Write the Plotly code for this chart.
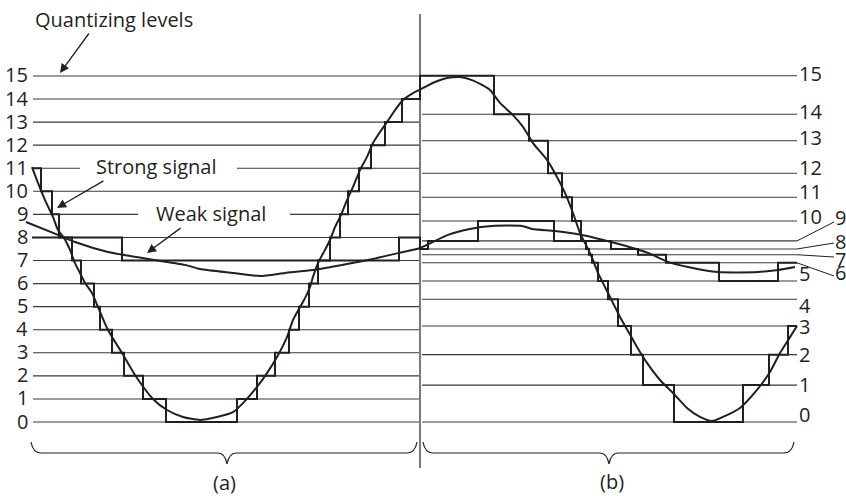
import plotly.graph_objects as go

# ---------------- data ----------------
LEVEL_CODES = list(range(16))
# (a) uniform quantizer: level amplitudes
LEFT_LEVELS = [0, 1, 2, 3, 4, 5, 6, 7, 8, 9, 10, 11, 12, 13, 14, 15]
# (b) companded quantizer: level amplitudes (same amplitude scale)
RIGHT_LEVELS = [0.00, 1.60, 2.92, 4.16, 5.32, 6.11, 6.90, 7.25, 7.50, 7.85,
                8.71, 9.74, 10.78, 12.19, 13.34, 15.01]

# strong (large) analog signal
strong_time = [32, 38, 45, 53, 58, 64, 70, 75, 80, 85, 92, 98, 108, 122, 135, 153, 167, 183, 200, 217,
               233, 243, 257, 267, 277, 287, 293, 300, 305, 310, 313, 318, 325, 330, 335, 341, 347, 353, 360, 367,
               373, 380, 387, 395, 403, 413, 423, 435, 447, 460, 472, 482, 490, 500, 513, 523, 533, 547, 557, 565,
               573, 580, 587, 593, 598, 605, 613, 620, 632, 637, 647, 660, 673, 687, 700, 712, 723, 740, 757, 770,
               780, 790, 797]
strong_value = [11.05, 10.36, 9.62, 8.89, 8.32, 7.98, 7.46, 6.89, 6.46, 6.03, 5.59, 4.98, 3.99, 2.99, 2.04, 1.00, 0.52, 0.22, 0.09, 0.22,
                0.43, 0.82, 1.52, 2.12, 2.82, 3.68, 4.42, 4.98, 5.37, 5.85, 6.29, 6.89, 7.46, 7.89, 8.45, 8.97, 9.62, 10.19, 10.92, 11.49,
                12.09, 12.57, 13.00, 13.52, 13.96, 14.26, 14.48, 14.74, 14.91, 14.95, 14.82, 14.61, 14.39, 13.83, 13.30, 12.79, 12.09, 11.36, 10.62, 9.93,
                9.06, 8.19, 7.59, 7.02, 6.46, 5.85, 5.16, 4.55, 3.64, 3.25, 2.56, 1.82, 1.26, 0.61, 0.22, 0.04, 0.22, 0.61, 1.39, 2.17,
                2.99, 3.68, 4.16]

# weak (small) analog signal
weak_time = [26, 58, 75, 108, 142, 185, 200, 233, 260, 285, 313, 347, 373, 399, 420, 448, 470, 492, 522, 532,
             555, 582, 615, 648, 668, 688, 718, 758, 778, 795]
weak_value = [8.67, 8.11, 7.80, 7.37, 7.11, 6.81, 6.63, 6.46, 6.33, 6.46, 6.59, 6.85, 7.07, 7.33, 7.54, 8.11, 8.37, 8.50, 8.50, 8.37,
              8.28, 8.11, 7.76, 7.33, 6.94, 6.72, 6.50, 6.50, 6.59, 6.72]

# quantized (held) codes: start time of each hold and the code held
strong_left_time = [32, 41, 52, 59, 72, 81, 94, 100, 112, 124, 143, 166, 237, 257, 275, 289, 299, 309, 318, 330,
                    340, 348, 359, 371, 385, 402]
strong_left_code = [11, 10, 9, 8, 7, 6, 5, 4, 3, 2, 1, 0, 1, 2, 3, 4, 5, 6, 7, 8, 9, 10, 11, 12, 13, 14]
strong_right_time = [420, 494, 529, 548, 562, 572, 581, 586, 589, 592, 598, 608, 618, 631, 643, 674, 743, 769, 788]
strong_right_code = [15, 14, 13, 12, 11, 10, 9, 8, 7, 6, 5, 4, 3, 2, 1, 0, 1, 2, 3]

weak_left_time = [32, 122, 399]
weak_left_code = [8, 7, 8]
weak_right_time = [420, 428, 478, 554, 611, 638, 666, 719, 778]
weak_right_code = [8, 9, 10, 9, 8, 7, 6, 5, 6]
END_TIME = 797

# ---------------- layout geometry / style ----------------
W, H = 846, 496
PX_PER_LEVEL = 23.07
BASE_PX = 422


def Y(py):
    """pixel row -> amplitude (for decorations only)"""
    return (BASE_PX - py) / PX_PER_LEVEL


INK = "#231f20"
GRID = "#3a3a3a"
FONT = dict(family="Open Sans", size=20, color=INK)

LEFT_X = (33, 419)
RIGHT_X = (422, 797)
LEFT_GAPS = {11: (80, 237), 9: (138, 290)}

fig = go.Figure()

# quantizing level lines
lx, ly = [], []
for c in LEVEL_CODES:
    a = LEFT_LEVELS[c]
    if c in LEFT_GAPS:
        g0, g1 = LEFT_GAPS[c]
        lx += [LEFT_X[0], g0, None, g1, LEFT_X[1], None]
        ly += [a, a, None, a, a, None]
    else:
        lx += [LEFT_X[0], LEFT_X[1], None]
        ly += [a, a, None]
for c in LEVEL_CODES:
    a = RIGHT_LEVELS[c]
    lx += [RIGHT_X[0], RIGHT_X[1], None]
    ly += [a, a, None]
fig.add_trace(go.Scatter(x=lx, y=ly, mode="lines", line=dict(color=GRID, width=1.1),
                         hoverinfo="skip"))


def staircase(lt, lc, rt, rc):
    xs = lt + rt + [END_TIME]
    ys = [LEFT_LEVELS[c] for c in lc] + [RIGHT_LEVELS[c] for c in rc]
    ys = ys + [ys[-1]]
    return xs, ys


sx, sy = staircase(strong_left_time, strong_left_code, strong_right_time, strong_right_code)
fig.add_trace(go.Scatter(x=sx, y=sy, mode="lines", line=dict(color=INK, width=2, shape="hv"),
                         hoverinfo="skip"))
wx, wy = staircase(weak_left_time, weak_left_code, weak_right_time, weak_right_code)
fig.add_trace(go.Scatter(x=wx, y=wy, mode="lines", line=dict(color=INK, width=2, shape="hv"),
                         hoverinfo="skip"))

# analog signals
fig.add_trace(go.Scatter(x=strong_time, y=strong_value, mode="lines",
                         line=dict(color=INK, width=2, shape="spline", smoothing=0.6), hoverinfo="skip"))
fig.add_trace(go.Scatter(x=weak_time, y=weak_value, mode="lines",
                         line=dict(color=INK, width=2, shape="spline", smoothing=0.6), hoverinfo="skip"))

shapes = []
# divider between (a) and (b)
shapes.append(dict(type="line", x0=420, x1=420, y0=Y(468), y1=Y(14), xref="x", yref="y",
                   line=dict(color=INK, width=1.2)))


def brace(x0, xm, x1):
    pts = (f"M {x0},{Y(442)} Q {x0 + 2},{Y(453)} {x0 + 10},{Y(453)} "
           f"L {xm - 9},{Y(453)} Q {xm - 2},{Y(453)} {xm},{Y(464)} "
           f"Q {xm + 2},{Y(453)} {xm + 9},{Y(453)} "
           f"L {x1 - 10},{Y(453)} Q {x1 - 2},{Y(453)} {x1},{Y(442)}")
    return dict(type="path", path=pts, xref="x", yref="y", line=dict(color=INK, width=1.2))


shapes.append(brace(31, 227, 417))
shapes.append(brace(423, 609, 794))

# leader lines for the crowded labels 9,8,7,6 on the right
LEADER_CODES = [9, 8, 7, 6]
LEADER_END_PX = [222, 243, 257, 276]
LEADER_LABEL_PX = [218, 242, 260, 273]
for c, e in zip(LEADER_CODES, LEADER_END_PX):
    shapes.append(dict(type="line", x0=797, x1=834, y0=RIGHT_LEVELS[c], y1=Y(e), xref="x", yref="y",
                       line=dict(color=INK, width=1)))

ann = []
for c in LEVEL_CODES:
    ann.append(dict(x=30, y=LEFT_LEVELS[c], text=str(c), xanchor="right", yanchor="middle",
                    showarrow=False, font=FONT, yshift=1))
RIGHT_SHIFT = {15: 1, 14: 2, 13: 2, 12: 5, 11: 5, 10: 4, 5: 7, 4: -7, 3: -1, 2: -1, 1: 0, 0: 7}
for c, s in RIGHT_SHIFT.items():
    ann.append(dict(x=797, y=RIGHT_LEVELS[c], text=str(c), xanchor="left", yanchor="middle",
                    showarrow=False, font=FONT, yshift=s + 1))
for c, p in zip(LEADER_CODES, LEADER_LABEL_PX):
    ann.append(dict(x=833, y=Y(p), text=str(c), xanchor="left", yanchor="middle",
                    showarrow=False, font=FONT, yshift=1))

ann.append(dict(x=33, y=Y(19), text="Quantizing levels", xanchor="left", yanchor="middle",
                showarrow=False, font=FONT))
ann.append(dict(x=94, y=Y(166), text="Strong signal", xanchor="left", yanchor="middle",
                showarrow=False, font=FONT))
ann.append(dict(x=154, y=Y(213), text="Weak signal", xanchor="left", yanchor="middle",
                showarrow=False, font=FONT))
ann.append(dict(x=224, y=Y(482), text="(a)", xanchor="center", yanchor="middle",
                showarrow=False, font=FONT))
ann.append(dict(x=612, y=Y(481), text="(b)", xanchor="center", yanchor="middle",
                showarrow=False, font=FONT))

# arrows
for (hx, hy, tx, ty) in [(60, 73, 90, 32), (57, 208, 105, 180), (147, 253, 182, 227)]:
    ann.append(dict(x=hx, y=Y(hy), ax=tx, ay=Y(ty), axref="x", ayref="y", xref="x", yref="y",
                    text="", showarrow=True, arrowhead=2, arrowsize=1.4, arrowwidth=1.3,
                    arrowcolor=INK))

fig.update_layout(
    width=W, height=H, margin=dict(l=0, r=0, t=0, b=0),
    xaxis=dict(range=[0, W], visible=False, fixedrange=True),
    yaxis=dict(range=[Y(H), Y(0)], visible=False, fixedrange=True),
    showlegend=False, plot_bgcolor="white", paper_bgcolor="white",
    shapes=shapes, annotations=ann,
)

fig.write_html(
    "out.html",
    config={"displayModeBar": False},
    post_script="document.body.style.margin='0';document.body.style.overflow='hidden';",
)
